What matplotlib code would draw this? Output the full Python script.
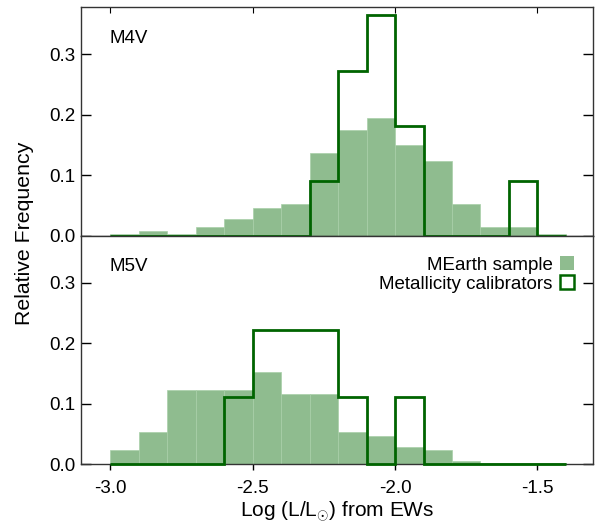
import numpy as np
import matplotlib
matplotlib.use("Agg")
import matplotlib.pyplot as plt
from matplotlib.patches import Patch

plt.rcParams["font.family"] = ["Liberation Sans", "DejaVu Sans"]
plt.rcParams["mathtext.fontset"] = "custom"
plt.rcParams["mathtext.rm"] = "Liberation Sans"
plt.rcParams["axes.unicode_minus"] = False

# bin edges in Log (L/Lsun)
edges = np.round(np.arange(-3.0, -1.35, 0.1), 2)

# M4V panel
m4_mearth = [0.003, 0.008, 0.003, 0.014, 0.027, 0.046, 0.053, 0.137,
             0.175, 0.195, 0.150, 0.124, 0.053, 0.014, 0.014, 0.003]
m4_calib = [0, 0, 0, 0, 0, 0, 0, 1 / 11, 3 / 11, 4 / 11, 2 / 11,
            0, 0, 0, 1 / 11, 0]

# M5V panel
m5_mearth = [0.024, 0.053, 0.123, 0.123, 0.123, 0.153, 0.117, 0.117,
             0.053, 0.047, 0.029, 0.024, 0.006, 0.002, 0.002, 0.002]
m5_calib = [0, 0, 0, 0, 1 / 9, 2 / 9, 2 / 9, 2 / 9, 1 / 9, 0, 1 / 9,
            0, 0, 0, 0, 0]

panel_names = ["M4V", "M5V"]

fill_color = "#8fbc8f"
line_color = "#006400"

fig = plt.figure(figsize=(6.07, 5.23), dpi=100)
gs = fig.add_gridspec(2, 1, left=0.133, right=0.977, top=0.987,
                      bottom=0.112, hspace=0)
axes = [fig.add_subplot(gs[0]), fig.add_subplot(gs[1])]

data = [(m4_mearth, m4_calib), (m5_mearth, m5_calib)]

for i, ax in enumerate(axes):
    mearth, calib = data[i]

    ax.bar(edges[:-1], mearth, width=0.1, align="edge",
           color=fill_color, edgecolor="#a9cfa9", linewidth=0.5,
           zorder=2)

    ax.stairs(calib, edges, baseline=0, fill=False,
              color=line_color, linewidth=2.0, zorder=3, clip_on=False)

    ax.set_xlim(-3.103, -1.305)
    ax.set_ylim(0, 0.378)
    ax.set_xticks([-3.0, -2.5, -2.0, -1.5])
    ax.set_yticks([0.0, 0.1, 0.2, 0.3])
    ax.yaxis.set_major_formatter(plt.FormatStrFormatter("%.1f"))

    ax.tick_params(axis="y", direction="in", length=7.5, width=1,
                   left=True, right=True, labelsize=13.5, pad=4)
    ax.tick_params(axis="x", direction="out", length=4, width=1,
                   labelsize=13.5, pad=7)

    for s in ax.spines.values():
        s.set_linewidth(1)
        s.set_color("#333333")

    ax.text(0.057, 0.863, panel_names[i], transform=ax.transAxes,
            fontsize=13.5, va="center", ha="left")

axes[0].tick_params(axis="x", labelbottom=False)
top_ticks = axes[0].secondary_xaxis("top")
top_ticks.set_xticks([-3.0, -2.5, -2.0, -1.5])
top_ticks.tick_params(axis="x", direction="in", length=4,
                      labeltop=False)
top_ticks.spines["top"].set_visible(False)

handles = [
    Patch(facecolor=fill_color, edgecolor="none"),
    Patch(facecolor="none", edgecolor=line_color, linewidth=1.8),
]
axes[1].legend(handles, ["MEarth sample", "Metallicity calibrators"],
               loc="upper right", bbox_to_anchor=(0.9635, 0.91),
               frameon=False, markerfirst=False, fontsize=13.5,
               handlelength=0.75, handleheight=0.75, handletextpad=0.4,
               labelspacing=0.1, borderpad=0, borderaxespad=0)

fig.text(0.040, 0.5535, "Relative Frequency", rotation=90,
         ha="center", va="center", fontsize=15.3)
fig.text(0.556, 0.022, r"Log (L/L$_{\odot}$) from EWs",
         ha="center", va="center", fontsize=15)

fig.savefig("out.png", dpi=100)
